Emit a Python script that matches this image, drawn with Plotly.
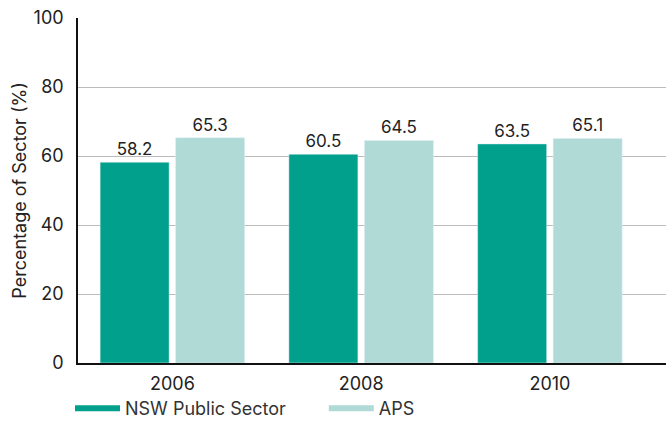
import plotly.graph_objects as go

years = ["2006", "2008", "2010"]
nsw = [58.2, 60.5, 63.5]
aps = [65.3, 64.5, 65.1]
series_names = ["NSW Public Sector", "APS"]
y_ticks = [0, 20, 40, 60, 80, 100]

c_nsw = "#00A08C"
c_aps = "#AFDAD5"
font_fam = "Inter, 'Open Sans', sans-serif"
txt = "#222222"

fig = go.Figure()
fig.add_trace(go.Bar(x=years, y=nsw, name=series_names[0], marker_color=c_nsw,
                     text=[f"{v:.1f}" for v in nsw], textposition="outside",
                     textfont=dict(size=17, color=txt), cliponaxis=False, showlegend=False))
fig.add_trace(go.Bar(x=years, y=aps, name=series_names[1], marker_color=c_aps,
                     text=[f"{v:.1f}" for v in aps], textposition="outside",
                     textfont=dict(size=17, color=txt), cliponaxis=False, showlegend=False))
# legend entries as thick lines
for nm, col, lg in zip(series_names, [c_nsw, c_aps], ["legend", "legend2"]):
    fig.add_trace(go.Scatter(x=[None], y=[None], mode="lines", name=nm, legend=lg,
                             line=dict(color=col, width=6)))

leg_common = dict(orientation="h", y=-0.132, xanchor="left", yanchor="middle",
                  font=dict(size=18, color="#333333"), itemwidth=45,
                  bgcolor="rgba(0,0,0,0)", borderwidth=0)

fig.update_layout(
    width=669, height=421,
    margin=dict(l=78, r=3, t=18, b=58, autoexpand=False),
    paper_bgcolor="white", plot_bgcolor="white",
    font=dict(family=font_fam, size=16, color=txt),
    barmode="group", bargap=0.2, bargroupgap=0.086,
    showlegend=True,
    legend=dict(x=-0.0136, **leg_common),
    legend2=dict(x=0.418, **leg_common),
    xaxis=dict(type="category", range=[-0.5, 2.615], showgrid=False, automargin=False,
               showline=True, linecolor="#111111", linewidth=1.5,
               ticks="", tickfont=dict(size=18, color=txt), ticklabelstandoff=4),
    yaxis=dict(range=[0, 100], tickvals=y_ticks, showgrid=True, automargin=False,
               gridcolor="#BBBBBB", gridwidth=1, showline=True, linecolor="#111111",
               linewidth=1.5, zeroline=False, ticks="", ticklabelstandoff=9,
               tickfont=dict(size=18, color=txt),
               title=dict(text="Percentage of Sector (%)", font=dict(size=18, color=txt),
                          standoff=2)),
)

fig.write_html("out.html")
